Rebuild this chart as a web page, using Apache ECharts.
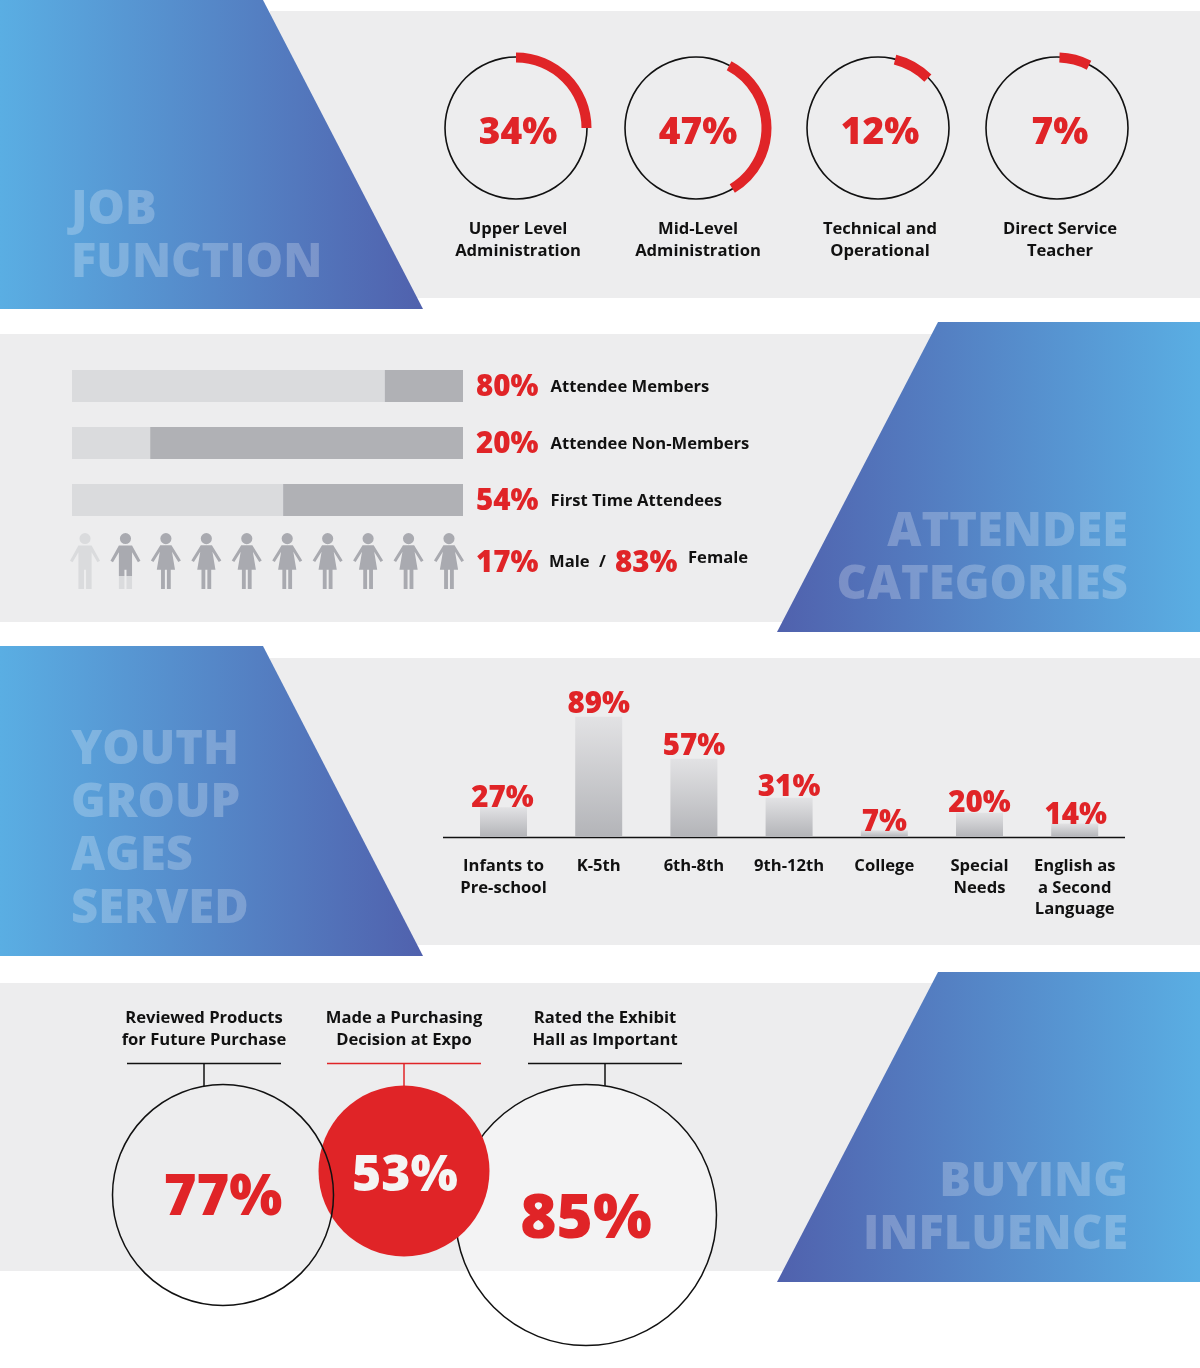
<!DOCTYPE html>
<html>
<head>
<meta charset="utf-8">
<style>
    html, body { margin: 0; padding: 0; background: #fff; }
    #chart { width: 1200px; height: 1368px; }
</style>
<script src="https://cdn.jsdelivr.net/npm/echarts@6/dist/echarts.min.js"></script>
</head>
<body>
<div id="chart"></div>
<script>
var jobNames = ['Upper Level\nAdministration', 'Mid-Level\nAdministration', 'Technical and\nOperational', 'Direct Service\nTeacher'];
var jobValues = [34, 47, 12, 7];
var jobArcStart = [0, 28, 14, 2];
var jobArcSpan = [90, 121, 31, 25];

// attendee categories
var attendeeNames = ['Attendee Members', 'Attendee Non-Members', 'First Time Attendees'];
var attendeeValues = [80, 20, 54];
var genderShare = [17, 83];
var peopleKinds = ['male', 'mixed', 'female', 'female', 'female', 'female', 'female', 'female', 'female', 'female'];

// youth ages, bars are not quite drawn to the printed numbers so heights are read separately
var ageNames = ['Infants to\nPre-school', 'K-5th', '6th-8th', '9th-12th', 'College', 'Special\nNeeds', 'English as\na Second\nLanguage'];
var ageValues = [27, 89, 57, 31, 7, 20, 14];
var ageBarHeights = [22, 89, 58, 29, 5, 18, 10];

// buying influence
var buyingNames = ['Reviewed Products\nfor Future Purchase', 'Made a Purchasing\nDecision at Expo', 'Rated the Exhibit\nHall as Important'];
var buyingValues = [77, 53, 85];

var FONT = '"Open Sans", sans-serif';
var RED = '#e02427';
var INK = '#111';
var PANEL = '#ededee';
var BLUE_L = '#5aaee3';
var BLUE_D = '#5061ad';
var BAR_L = '#dadbdd';
var BAR_D = '#b0b1b5';
var SMALL = 16.6;
var PCT = 29.5;

var FEMALE = 'path://M15 1a5.5 5.5 0 1 1 0 11a5.5 5.5 0 1 1 0-11zM9.5 13L20.5 13L29.8 28L27.3 29.5L21 19.5L24 37L19.8 37L19.8 56L16 56L16 37L14 37L14 56L10.2 56L10.2 37L6 37L9 19.5L2.7 29.5L0.2 28Z';
var MALE = 'path://M15 0.5a5.5 5.5 0 1 1 0 11a5.5 5.5 0 1 1 0-11zM8.5 13L21.5 13L29.8 28L27.3 29.5L21.5 19.5L21.5 56L16 56L16 37L14 37L14 56L8.5 56L8.5 19.5L2.7 29.5L0.2 28Z';

var myChart = echarts.init(document.getElementById('chart'));

function hGradient(from, to) {
    return {type: 'linear', x: 0, y: 0, x2: 1, y2: 0, colorStops: [{offset: 0, color: from}, {offset: 1, color: to}]};
}

function panel(x, y, w, h) {
    return {type: 'rect', z: 0, silent: true, shape: {x: x, y: y, width: w, height: h}, style: {fill: PANEL}};
}

function banner(points, from, to) {
    return {type: 'polygon', z: 1, silent: true, shape: {points: points}, style: {fill: hGradient(from, to)}};
}

function label(text, x, y, size, color, align, lineHeight, weight) {
    return {
        type: 'text', z: 20, silent: true, x: x, y: y,
        style: {
            text: text, fill: color, align: align || 'center', verticalAlign: 'middle',
            font: (weight || 'bold') + ' ' + size + 'px ' + FONT, lineHeight: lineHeight || size * 1.3
        }
    };
}

function heading(lines, x, firstY, align) {
    return lines.map(function (line, i) {
        return {
            type: 'text', z: 3, silent: true, x: x, y: firstY + i * 53,
            style: {
                text: line, fill: 'rgba(255,255,255,0.24)', align: align, verticalAlign: 'middle',
                font: '800 47px ' + FONT
            }
        };
    });
}

function line(x1, y1, x2, y2, color, width) {
    return {type: 'line', z: 2, silent: true, shape: {x1: x1, y1: y1, x2: x2, y2: y2}, style: {stroke: color, lineWidth: width}};
}

var jobX = [516, 696, 878, 1057];
var jobLabelX = [518, 698, 880, 1060];
var leaderX = [204, 404, 605];
var leaderColor = [INK, RED, INK];
var ageLabelNudge = [[-1, 3], [0, 0], [0, 0], [0, 2], [0, 4], [0, 3], [1, 4]];

var graphics = [
    panel(270, 11, 930, 287),
    panel(0, 334, 1200, 288),
    panel(270, 658, 930, 287),
    panel(0, 983, 1200, 288),
    banner([[0, 0], [263, 0], [423, 309], [0, 309]], BLUE_L, BLUE_D),
    banner([[938, 322], [1200, 322], [1200, 632], [777, 632]], BLUE_D, BLUE_L),
    banner([[0, 646], [263, 646], [423, 956], [0, 956]], BLUE_L, BLUE_D),
    banner([[938, 972], [1200, 972], [1200, 1282], [777, 1282]], BLUE_D, BLUE_L),
    label(genderShare[0] + '%', 476, 564, PCT, RED, 'left', 0, 800),
    label('Male', 549, 562, SMALL, INK, 'left'),
    label('/', 599, 562, SMALL, INK, 'left'),
    label(genderShare[1] + '%', 615, 564, PCT, RED, 'left', 0, 800),
    label('Female', 688, 558, SMALL, INK, 'left'),
    line(443, 837.5, 1125, 837.5, INK, 1.5)
];
graphics = graphics.concat(
    heading(['JOB', 'FUNCTION'], 71, 211, 'left'),
    heading(['ATTENDEE', 'CATEGORIES'], 1128, 533, 'right'),
    heading(['YOUTH', 'GROUP', 'AGES', 'SERVED'], 71, 751, 'left'),
    heading(['BUYING', 'INFLUENCE'], 1128, 1183, 'right')
);
jobNames.forEach(function (name, i) {
    graphics.push(label(name, jobLabelX[i], 240.5, SMALL, INK, 'center', 21.5));
});
buyingNames.forEach(function (name, i) {
    graphics.push(label(name, leaderX[i], 1029, SMALL, INK, 'center', 22));
    graphics.push(line(leaderX[i] - 77, 1063.5, leaderX[i] + 77, 1063.5, leaderColor[i], 1.5));
    graphics.push(line(leaderX[i], 1063.5, leaderX[i], 1086, leaderColor[i], 1.5));
});

var series = [];

// rings: thin black circle carrying the number, red arc over it
jobValues.forEach(function (value, i) {
    series.push({
        type: 'pie', silent: true, z: 4, center: [jobX[i], 128], radius: [70.2, 71.8],
        label: {
            position: 'center', formatter: '{c}%', color: RED, fontFamily: FONT, fontWeight: 800, fontSize: 37,
            offset: [jobLabelX[i] - jobX[i], 5]
        },
        labelLine: {show: false},
        itemStyle: {color: INK},
        data: [value]
    });
    series.push({
        type: 'pie', silent: true, z: 5, center: [jobX[i], 128], radius: [65.5, 75.5],
        startAngle: 90 - jobArcStart[i], label: {show: false}, labelLine: {show: false},
        data: [
            {value: jobArcSpan[i], itemStyle: {color: RED}},
            {value: 360 - jobArcSpan[i], itemStyle: {color: 'transparent'}}
        ]
    });
});

// attendee stacked bars
series.push({
    type: 'bar', xAxisIndex: 0, yAxisIndex: 0, stack: 'share', barWidth: 32, silent: true,
    itemStyle: {color: BAR_L},
    data: attendeeValues
});
series.push({
    type: 'bar', xAxisIndex: 0, yAxisIndex: 0, stack: 'share', barWidth: 32, silent: true,
    itemStyle: {color: BAR_D},
    label: {
        show: true, position: 'right', distance: 13, offset: [0, 2],
        formatter: function (p) {
            return '{pct|' + attendeeValues[p.dataIndex] + '%}{name|' + attendeeNames[p.dataIndex] + '}';
        },
        rich: {
            pct: {color: RED, fontFamily: FONT, fontWeight: 800, fontSize: PCT},
            name: {color: INK, fontFamily: FONT, fontWeight: 'bold', fontSize: SMALL, padding: [0, 0, 2, 12]}
        }
    },
    data: attendeeValues.map(function (v) { return 100 - v; })
});

// row of people, the second figure is cut at the dark part of the legs
series.push({
    type: 'pictorialBar', xAxisIndex: 1, yAxisIndex: 1, silent: true, z: 4,
    symbolSize: [30, 56], symbolPosition: 'start',
    data: peopleKinds.map(function (kind) {
        var color = '#a9aab0';
        if (kind === 'male') {
            color = BAR_L;
        } else if (kind === 'mixed') {
            color = {
                type: 'linear', x: 0, y: 0, x2: 0, y2: 1,
                colorStops: [{offset: 0, color: '#a9aab0'}, {offset: 0.77, color: '#a9aab0'}, {offset: 0.77, color: BAR_L}, {offset: 1, color: BAR_L}]
            };
        }
        return {value: 1, symbol: kind === 'female' ? FEMALE : MALE, itemStyle: {color: color}};
    })
});

// age bars
series.push({
    type: 'bar', xAxisIndex: 2, yAxisIndex: 2, barWidth: 47, silent: true, z: 4,
    itemStyle: {
        color: {type: 'linear', x: 0, y: 0, x2: 0, y2: 1, colorStops: [{offset: 0, color: '#e2e2e4'}, {offset: 1, color: '#b3b4b8'}]}
    },
    label: {
        show: true, position: 'top', distance: -2, lineHeight: 28,
        color: RED, fontFamily: FONT, fontWeight: 800, fontSize: PCT,
        formatter: function (p) { return ageValues[p.dataIndex] + '%'; }
    },
    data: ageBarHeights.map(function (h, i) {
        return {value: h, label: {offset: ageLabelNudge[i]}};
    })
});

// buying circles, drawn back to front
var buyingCircles = [
    {center: [586, 1215], r: 130.5, z: 6, fill: 'rgba(255,255,255,0.35)', stroke: INK, border: 1.5, size: 62, color: RED, offset: [0, 5]},
    {center: [404, 1171], r: 85.5, z: 7, fill: RED, stroke: RED, border: 0, size: 50, color: '#f4f4f4', offset: [1, 6]},
    {center: [223, 1195], r: 110.5, z: 8, fill: 'transparent', stroke: INK, border: 1.5, size: 56, color: RED, offset: [0, 4]}
];
[2, 1, 0].forEach(function (idx, i) {
    var c = buyingCircles[i];
    series.push({
        type: 'pie', silent: true, z: c.z, center: c.center, radius: [0, c.r],
        itemStyle: {color: c.fill, borderColor: c.stroke, borderWidth: c.border},
        label: {
            position: 'center', formatter: '{c}%', color: c.color, fontFamily: FONT, fontWeight: 800, fontSize: c.size,
            offset: c.offset
        },
        labelLine: {show: false},
        data: [buyingValues[idx]]
    });
});

var option = {
    animation: false,
    backgroundColor: '#fff',
    graphic: {elements: graphics},
    grid: [
        {left: 72, top: 357.5, width: 391, height: 171},
        {left: 64.8, top: 533, width: 404.4, height: 56},
        {left: 455.9, top: 702, width: 666.4, height: 135}
    ],
    xAxis: [
        {gridIndex: 0, type: 'value', min: 0, max: 100, show: false},
        {gridIndex: 1, type: 'category', data: peopleKinds.map(function (k, i) { return i; }), show: false},
        {
            gridIndex: 2, type: 'category', data: ageNames,
            axisLine: {show: false}, axisTick: {show: false},
            axisLabel: {interval: 0, margin: 19, color: INK, fontFamily: FONT, fontWeight: 'bold', fontSize: SMALL, lineHeight: 21.5, verticalAlign: 'top'}
        }
    ],
    yAxis: [
        {gridIndex: 0, type: 'category', inverse: true, data: attendeeNames, show: false},
        {gridIndex: 1, type: 'value', min: 0, max: 1, show: false},
        {gridIndex: 2, type: 'value', min: 0, max: 100, show: false}
    ],
    series: series
};

myChart.setOption(option);
</script>
</body>
</html>
